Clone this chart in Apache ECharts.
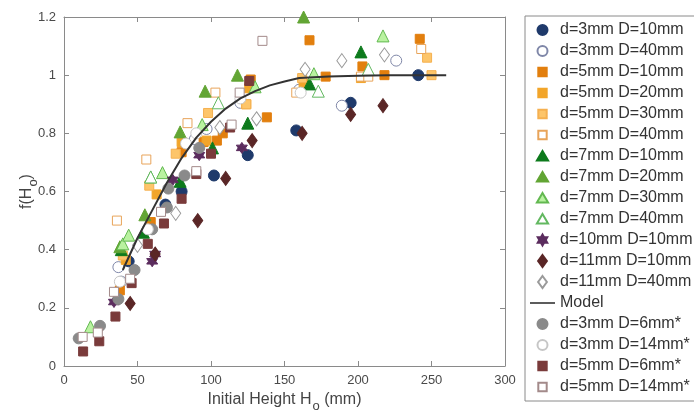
<!DOCTYPE html>
<html>
<head>
<meta charset="utf-8">
<script src="https://cdn.jsdelivr.net/npm/echarts@6/dist/echarts.min.js"></script>
<style>
html, body { margin: 0; padding: 0; background: #fff; }
#chart { width: 694px; height: 412px; }
</style>
</head>
<body>
<div id="chart"></div>
<script>
// tick labels
var xTicks = [0, 50, 100, 150, 200, 250, 300];
var yTicks = [0, 0.2, 0.4, 0.6, 0.8, 1, 1.2];

// measured points [H0 (mm), f(H0)]
var d3D10 = [[44, 0.36], [69, 0.555], [80, 0.60], [102, 0.655], [125, 0.725], [158, 0.81], [195, 0.905], [241, 1.0]];
var d3D40 = [[37, 0.34], [39, 0.29], [89, 0.78], [97, 0.815], [120, 0.905], [160, 0.95], [189, 0.895], [226, 1.05]];
var d5D10 = [[38, 0.26], [59, 0.495], [80, 0.735], [95, 0.77], [104, 0.775], [108, 0.80], [127, 0.985], [138, 0.855],
             [167, 1.12], [178, 0.995], [203, 1.03], [218, 1.0], [242, 1.125]];
var d5D20 = [[42, 0.365], [63, 0.59], [80, 0.77], [97, 0.775], [124, 0.90], [126, 0.955], [163, 0.97], [202, 0.99]];
var d5D30 = [[40, 0.38], [58, 0.62], [76, 0.73], [98, 0.87], [124, 0.90], [162, 0.99], [247, 1.06], [250, 1.0]];
var d5D40 = [[36, 0.50], [56, 0.71], [84, 0.835], [103, 0.94], [158, 0.94], [202, 0.995], [207, 0.995], [243, 1.09]];
var d7D10 = [[39, 0.40], [54, 0.46], [79, 0.635], [101, 0.75], [125, 0.835], [167, 0.97], [202, 1.08]];
var d7D20 = [[38, 0.41], [55, 0.52], [79, 0.805], [96, 0.945], [118, 1.0], [163, 1.2]];
var d7D30 = [[18, 0.135], [40, 0.42], [44, 0.45], [59, 0.65], [67, 0.665], [94, 0.83], [130, 0.96], [170, 1.005], [217, 1.135]];
var d7D40 = [[59, 0.65], [105, 0.905], [173, 0.945], [207, 1.02]];
var d10D10 = [[34, 0.22], [60, 0.36], [62, 0.385], [74, 0.64], [92, 0.725], [121, 0.75]];
var d11D10 = [[45, 0.215], [62, 0.385], [91, 0.50], [110, 0.645], [128, 0.775], [162, 0.80], [195, 0.865], [217, 0.895]];
var d11D40 = [[50, 0.415], [76, 0.525], [106, 0.82], [131, 0.85], [164, 1.02], [189, 1.05], [218, 1.07]];
var modelCurve = [[40, 0.33], [50, 0.44], [60, 0.535], [70, 0.63], [80, 0.715], [90, 0.785], [100, 0.84], [110, 0.885],
                  [120, 0.92], [130, 0.945], [140, 0.965], [150, 0.978], [160, 0.99], [180, 0.995], [200, 0.998],
                  [220, 1.0], [260, 1.0]];
var d3D6 = [[10, 0.095], [24.5, 0.138], [37, 0.23], [48, 0.33], [60, 0.47], [70, 0.545], [71, 0.61], [82, 0.655], [92, 0.75]];
var d3D14 = [[38, 0.29], [57, 0.47], [83, 0.765], [90, 0.80], [120, 0.92], [161, 0.94]];
var d5D6 = [[13, 0.05], [24, 0.085], [35, 0.17], [46, 0.285], [57, 0.42], [68, 0.49], [80, 0.575], [90, 0.66],
            [100, 0.73], [113, 0.82], [126, 0.98]];
var d5D14 = [[12.7, 0.1], [23, 0.115], [34, 0.255], [45, 0.30], [66, 0.53], [90, 0.67], [114, 0.83], [119.5, 0.94], [135, 1.118]];

var star6 = 'path://M0,-10L2.9,-5L8.66,-5L5.8,0L8.66,5L2.9,5L0,10L-2.9,5L-8.66,5L-5.8,0L-8.66,-5L-2.9,-5Z';

// legend icons drawn in a fixed 12x12 frame so they keep their own size
var frame = 'M-6,-6M6,6';
var icons = {
    circle: 'path://' + frame + 'M-5,0A5,5,0,1,1,5,0A5,5,0,1,1,-5,0Z',
    rect: 'path://' + frame + 'M-4.2,-4.2L4.2,-4.2L4.2,4.2L-4.2,4.2Z',
    triangle: 'path://' + frame + 'M0,-5L5.6,4.6L-5.6,4.6Z',
    diamond: 'path://' + frame + 'M0,-6L4.4,0L0,6L-4.4,0Z',
    star: 'path://' + frame + 'M0,-5.5L1.6,-2.75L4.76,-2.75L3.2,0L4.76,2.75L1.6,2.75L0,5.5L-1.6,2.75L-4.76,2.75L-3.2,0L-4.76,-2.75L-1.6,-2.75Z',
    line: 'path://M0,0L25,0L25,1.6L0,1.6Z'
};

// name, data, symbol, size, fill, border, legend icon
var groups = [
    ['d=3mm D=10mm', d3D10, 'circle', 11, '#1f3a6b', '#1f3a6b', 'circle'],
    ['d=3mm D=40mm', d3D40, 'circle', 11, '#ffffff', '#7f87a8', 'circle'],
    ['d=5mm D=10mm', d5D10, 'rect', 9, '#e27f0e', '#e27f0e', 'rect'],
    ['d=5mm D=20mm', d5D20, 'rect', 9, '#f2a52a', '#f2a52a', 'rect'],
    ['d=5mm D=30mm', d5D30, 'rect', 9, '#fdc56a', '#f5b050', 'rect'],
    ['d=5mm D=40mm', d5D40, 'rect', 9, '#ffffff', '#e8a45a', 'rect'],
    ['d=7mm D=10mm', d7D10, 'triangle', 12, '#0d7a1c', '#0d7a1c', 'triangle'],
    ['d=7mm D=20mm', d7D20, 'triangle', 12, '#62a534', '#62a534', 'triangle'],
    ['d=7mm D=30mm', d7D30, 'triangle', 12, '#b9f2a0', '#62b850', 'triangle'],
    ['d=7mm D=40mm', d7D40, 'triangle', 12, '#ffffff', '#62b860', 'triangle'],
    ['d=10mm D=10mm', d10D10, star6, 11, '#5b2c5e', '#5b2c5e', 'star'],
    ['d=11mm D=10mm', d11D10, 'diamond', [10, 14], '#5a2626', '#5a2626', 'diamond'],
    ['d=11mm D=40mm', d11D40, 'diamond', [10, 14], '#ffffff', '#9a9a9a', 'diamond'],
    'Model',
    ['d=3mm D=6mm*', d3D6, 'circle', 11, '#8a8a8a', '#8a8a8a', 'circle'],
    ['d=3mm D=14mm*', d3D14, 'circle', 11, '#ffffff', '#c6c6c6', 'circle'],
    ['d=5mm D=6mm*', d5D6, 'rect', 9, '#7a3b3b', '#7a3b3b', 'rect'],
    ['d=5mm D=14mm*', d5D14, 'rect', 9, '#ffffff', '#a38a8a', 'rect']
];

var series = [];
var legendData = [];
groups.forEach(function (g) {
    if (g === 'Model') {
        legendData.push({ name: 'Model', icon: icons.line });
        series.push({
            name: 'Model',
            type: 'line',
            data: modelCurve,
            symbol: 'none',
            lineStyle: { color: '#333', width: 2 },
            itemStyle: { color: '#333' },
            z: 3
        });
        return;
    }
    legendData.push({ name: g[0], icon: icons[g[6]] });
    series.push({
        name: g[0],
        type: 'scatter',
        data: g[1],
        symbol: g[2],
        symbolSize: g[3],
        itemStyle: { color: g[4], borderColor: g[5], borderWidth: 1, opacity: 1 }
    });
});

var font = 'Liberation Sans, Arial';
var labelStyle = { color: '#4a4a4a', fontSize: 13, fontFamily: font };
var lineStyle = { color: '#8a8a8a', width: 1 };

function axisBase(pos, ticks, showLabel) {
    return {
        type: 'value',
        position: pos,
        min: ticks[0],
        max: ticks[ticks.length - 1],
        interval: ticks[1] - ticks[0],
        axisLine: { show: true, onZero: false, lineStyle: lineStyle },
        axisTick: { show: true, inside: true, length: 5, lineStyle: lineStyle },
        axisLabel: Object.assign({ show: showLabel, margin: 8 }, labelStyle),
        splitLine: { show: false }
    };
}

var nameRich = {
    n: { fontSize: 16, color: '#444', fontFamily: font },
    s: { fontSize: 13, color: '#444', fontFamily: font, padding: [14, 0, 0, 1] }
};

var xMain = axisBase('bottom', xTicks, true);
xMain.name = '{n|Initial Height H}{s|o}{n| (mm)}';
xMain.nameLocation = 'middle';
xMain.nameGap = 20;
xMain.nameTextStyle = { fontFamily: font, color: '#444', rich: nameRich };

var yMain = axisBase('left', yTicks, true);
yMain.axisLabel.formatter = function (v) { return String(Math.round(v * 10) / 10); };
yMain.name = '{n|f(H}{s|o}{n|)}';
yMain.nameLocation = 'middle';
yMain.nameRotate = 90;
yMain.nameGap = 24;
yMain.nameMoveOverlap = false;
yMain.nameTextStyle = { fontFamily: font, color: '#444', rich: nameRich };

var myChart = echarts.init(document.getElementById('chart'));

var option = {
    backgroundColor: '#fff',
    animation: false,
    grid: { left: 64, right: 189, top: 17, bottom: 46, outerBoundsMode: 'none', containLabel: false },
    xAxis: [xMain, axisBase('top', xTicks, false)],
    yAxis: [yMain, axisBase('right', yTicks, false)],
    legend: {
        data: legendData,
        orient: 'vertical',
        left: 525,
        top: 16,
        padding: [6, 12, 6, 5],
        itemWidth: 25,
        itemHeight: 12,
        itemGap: 5,
        symbolKeepAspect: true,
        borderColor: '#8a8a8a',
        borderWidth: 1,
        textStyle: { color: '#333', fontSize: 16, lineHeight: 16, fontFamily: font }
    },
    series: series
};

myChart.setOption(option);
</script>
</body>
</html>
